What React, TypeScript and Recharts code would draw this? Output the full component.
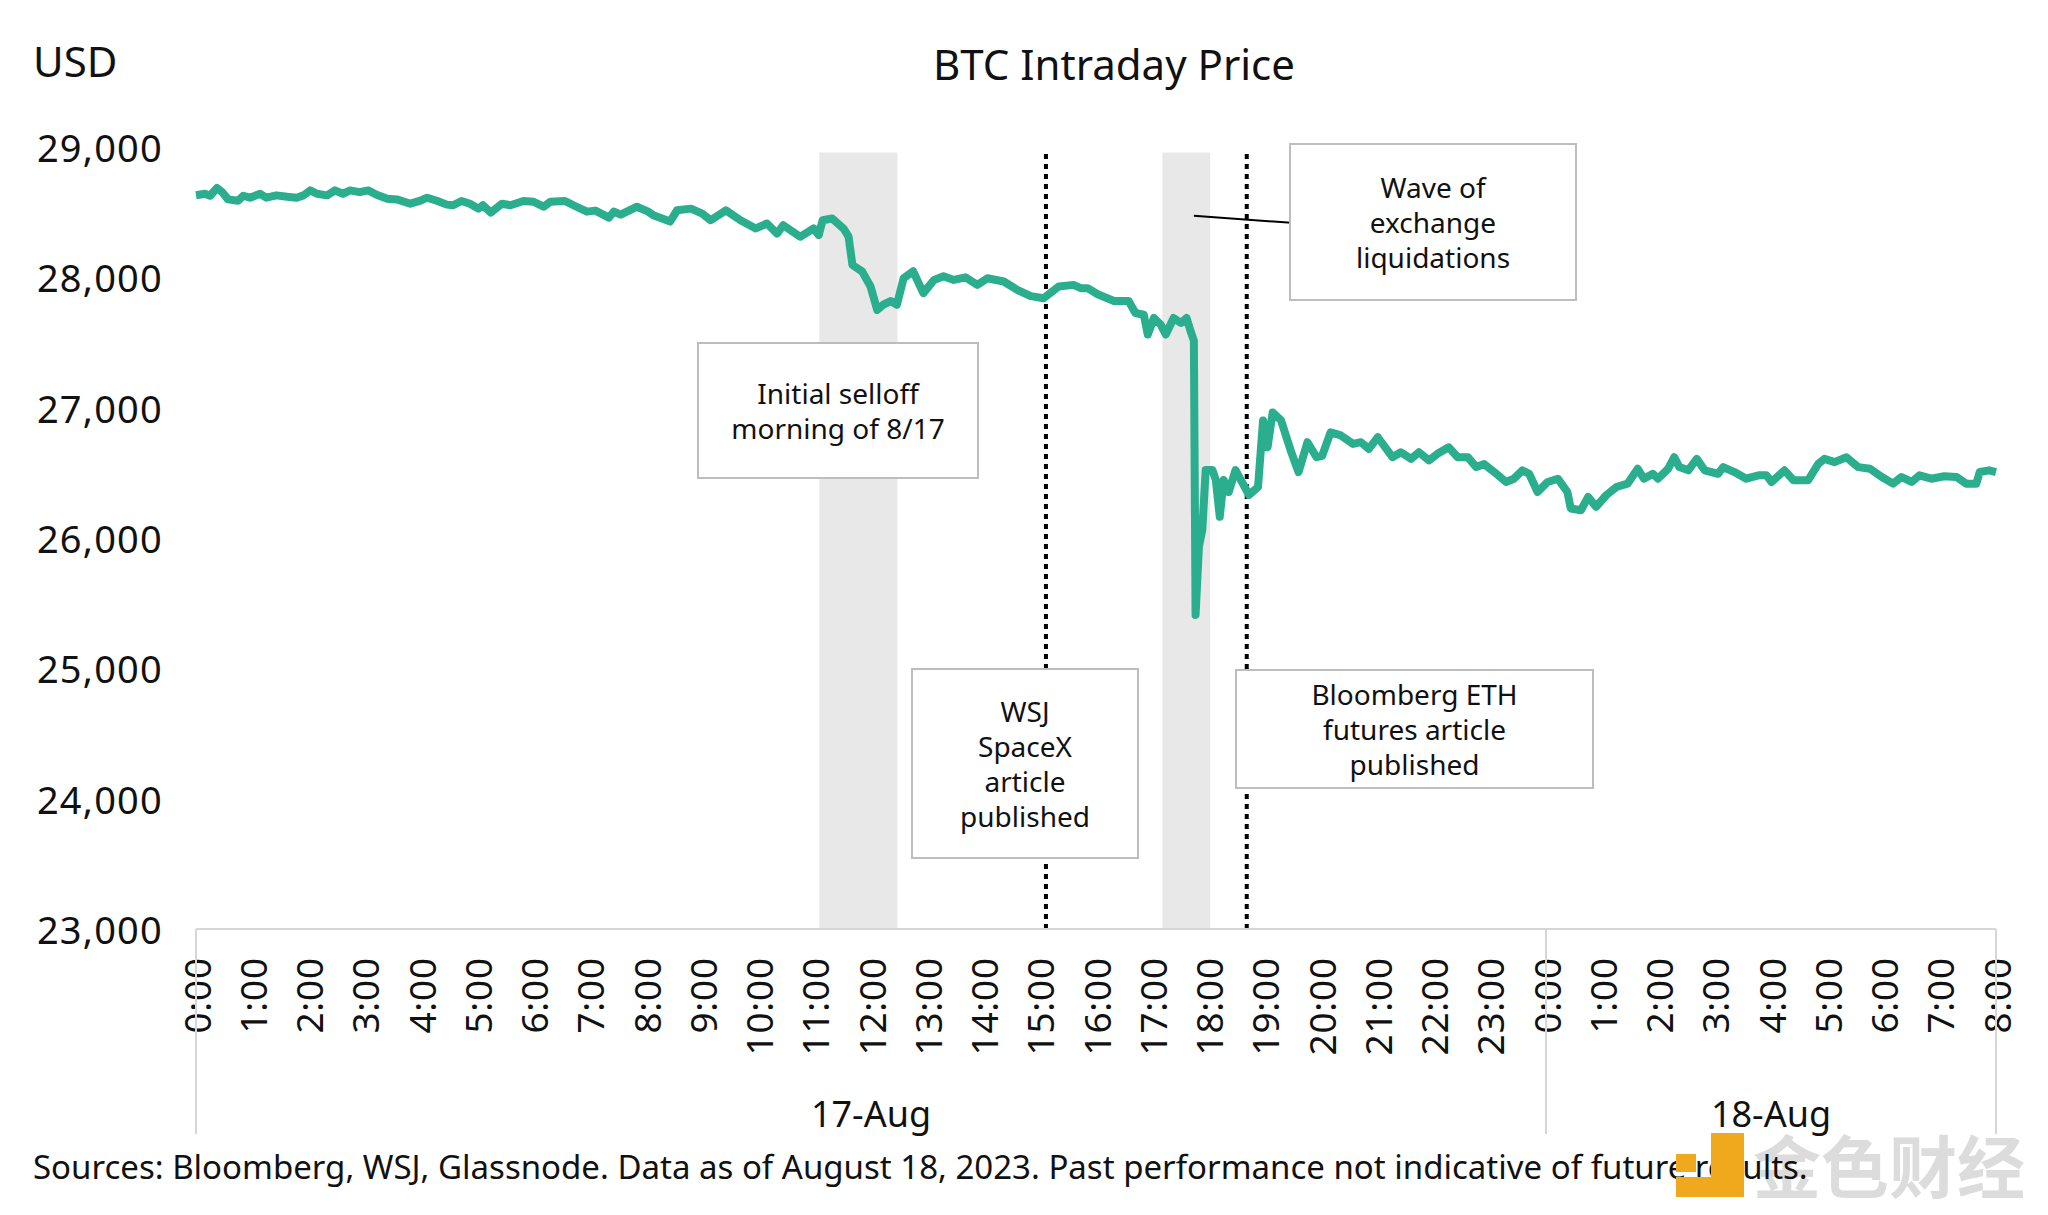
import { LineChart, Line, XAxis, YAxis, ReferenceArea, ReferenceLine } from 'recharts';

// hours since 0:00 on 17-Aug
const hours = [
  0.0, 0.16, 0.25, 0.37, 0.46, 0.57, 0.75, 0.84, 0.96, 1.14, 1.25, 1.43, 1.62, 1.79, 1.91,
  2.03, 2.15, 2.33, 2.47, 2.61, 2.74, 2.91, 3.06, 3.21, 3.4, 3.57, 3.81, 3.99, 4.11, 4.28,
  4.46, 4.57, 4.72, 4.87, 5.02, 5.1, 5.24, 5.44, 5.59, 5.82, 6.0, 6.18, 6.3, 6.56, 6.71,
  6.95, 7.1, 7.34, 7.43, 7.55, 7.84, 7.9, 8.04, 8.13, 8.43, 8.55, 8.8, 9.0, 9.15, 9.42,
  9.68, 9.95, 10.15, 10.33, 10.44, 10.74, 10.98, 11.07, 11.14, 11.31, 11.51, 11.6, 11.67, 11.84, 11.99,
  12.11, 12.22, 12.35, 12.46, 12.58, 12.75, 12.93, 13.12, 13.29, 13.47, 13.68, 13.89, 14.07, 14.36, 14.6,
  14.84, 15.07, 15.34, 15.6, 15.73, 15.85, 16.03, 16.32, 16.58, 16.7, 16.85, 16.92, 17.03, 17.15, 17.24,
  17.38, 17.51, 17.61, 17.68, 17.74, 17.77, 17.83, 17.89, 17.95, 18.07, 18.13, 18.2, 18.27, 18.36, 18.48,
  18.61, 18.72, 18.88, 18.97, 19.05, 19.14, 19.29, 19.46, 19.6, 19.76, 19.92, 20.02, 20.17, 20.34, 20.57,
  20.71, 20.85, 21.01, 21.27, 21.42, 21.6, 21.74, 21.92, 22.07, 22.27, 22.43, 22.61, 22.76, 22.9, 23.08,
  23.29, 23.43, 23.58, 23.7, 23.85, 24.03, 24.21, 24.38, 24.44, 24.62, 24.75, 24.89, 25.07, 25.25, 25.45,
  25.63, 25.74, 25.9, 25.99, 26.17, 26.28, 26.37, 26.53, 26.68, 26.82, 27.06, 27.15, 27.35, 27.56, 27.78,
  27.92, 28.01, 28.24, 28.4, 28.66, 28.84, 28.95, 29.13, 29.34, 29.55, 29.76, 29.97, 30.17, 30.32, 30.5,
  30.64, 30.85, 31.08, 31.3, 31.47, 31.65, 31.71, 31.88, 32.0,
];

// BTC price, USD
const prices = [
  28630, 28641, 28626, 28685, 28656, 28598, 28588, 28626, 28611, 28641, 28611, 28629, 28618, 28611, 28629,
  28667, 28641, 28629, 28667, 28641, 28667, 28654, 28667, 28634, 28603, 28598, 28565, 28588, 28611, 28588,
  28558, 28553, 28586, 28565, 28527, 28553, 28497, 28565, 28553, 28586, 28580, 28542, 28580, 28586, 28553,
  28504, 28512, 28458, 28504, 28481, 28542, 28530, 28504, 28476, 28428, 28514, 28527, 28489, 28438, 28514,
  28438, 28375, 28413, 28336, 28400, 28311, 28375, 28324, 28438, 28451, 28375, 28314, 28095, 28046, 27932,
  27751, 27790, 27818, 27790, 27993, 28046, 27879, 27980, 28008, 27980, 28000, 27942, 27993, 27968, 27904,
  27856, 27840, 27930, 27942, 27917, 27917, 27870, 27818, 27818, 27726, 27713, 27561, 27688, 27637, 27561,
  27688, 27650, 27688, 27589, 27513, 25410, 25934, 26063, 26521, 26521, 26445, 26163, 26445, 26353, 26521,
  26417, 26330, 26391, 26902, 26696, 26963, 26902, 26673, 26506, 26735, 26620, 26630, 26811, 26790, 26722,
  26735, 26684, 26773, 26620, 26658, 26607, 26658, 26595, 26646, 26696, 26620, 26620, 26544, 26567, 26506,
  26430, 26455, 26519, 26493, 26353, 26430, 26455, 26353, 26226, 26213, 26315, 26239, 26328, 26391, 26417,
  26531, 26455, 26493, 26455, 26531, 26620, 26544, 26519, 26607, 26519, 26493, 26544, 26506, 26455, 26481,
  26481, 26430, 26519, 26443, 26443, 26569, 26607, 26582, 26620, 26544, 26531, 26468, 26417, 26468, 26430,
  26481, 26455, 26474, 26468, 26417, 26417, 26506, 26519, 26506,
];

const yTicks = [23000, 24000, 25000, 26000, 27000, 28000, 29000];
const xTicks = [
  0, 1, 2, 3, 4, 5, 6, 7, 8, 9, 10, 11, 12, 13, 14, 15, 16, 17, 18, 19, 20, 21, 22, 23,
  24, 25, 26, 27, 28, 29, 30, 31, 32,
];
const xTickLabels = [
  '0:00', '1:00', '2:00', '3:00', '4:00', '5:00', '6:00', '7:00', '8:00', '9:00', '10:00', '11:00',
  '12:00', '13:00', '14:00', '15:00', '16:00', '17:00', '18:00', '19:00', '20:00', '21:00', '22:00', '23:00',
  '0:00', '1:00', '2:00', '3:00', '4:00', '5:00', '6:00', '7:00', '8:00',
];
const dayBounds = [0, 24, 32];
const dayLabelAt = [12, 28];
const dayLabels = ['17-Aug', '18-Aug'];

// shaded windows and event times (hours)
const bandStarts = [11.08, 17.18];
const bandEnds = [12.47, 18.03];
const eventHours = [15.11, 18.68];
const eventTop = 28950;
const connectorFrom = { x: 17.74, y: 28472 };
const connectorTo = { x: 19.47, y: 28418 };

const data = hours.map((h, i) => ({ h, price: prices[i] }));

const FONT = "'Noto Sans', 'Open Sans', sans-serif";
const AXIS_Y = 929;
const GRAY = '#d6d6d6';

const notes = [
  { lines: ['Wave of', 'exchange', 'liquidations'], left: 1289, top: 143, width: 288, height: 158 },
  { lines: ['Initial selloff', 'morning of 8/17'], left: 697, top: 342, width: 282, height: 137 },
  { lines: ['WSJ', 'SpaceX', 'article', 'published'], left: 911, top: 668, width: 228, height: 191 },
  { lines: ['Bloomberg ETH', 'futures article', 'published'], left: 1235, top: 669, width: 359, height: 120 },
];

function YTick({ y, payload }: any) {
  return (
    <text
      x={163}
      y={y}
      textAnchor="end"
      dominantBaseline="central"
      fontSize={38}
      letterSpacing={1.2}
      fill="#111"
      fontFamily={FONT}
    >
      {Number(payload.value).toLocaleString('en-US')}
    </text>
  );
}

function XTick({ x, payload }: any) {
  const v = payload.value;
  const idx = xTicks.indexOf(v);
  const dl = dayLabelAt.indexOf(v);
  return (
    <g>
      <text
        transform={`translate(${x},${AXIS_Y + 28}) rotate(-90)`}
        textAnchor="end"
        dominantBaseline="central"
        fontSize={37}
        letterSpacing={0.8}
        fill="#111"
        fontFamily={FONT}
      >
        {xTickLabels[idx]}
      </text>
      {dayBounds.includes(v) && <line x1={x} x2={x} y1={AXIS_Y} y2={1134} stroke={GRAY} strokeWidth={2} />}
      {dl >= 0 && (
        <text x={x} y={1113} textAnchor="middle" dominantBaseline="central" fontSize={36} fill="#111" fontFamily={FONT}>
          {dayLabels[dl]}
        </text>
      )}
    </g>
  );
}

export default function App() {
  return (
    <div style={{ position: 'absolute', left: 0, top: 0, width: 2048, height: 1215, background: '#fff', fontFamily: FONT, color: '#111' }}>
      <LineChart width={2048} height={1215} data={data} margin={{ top: 147, right: 52, bottom: 86, left: 0 }}>
        <XAxis
          dataKey="h"
          type="number"
          domain={[0, 32]}
          ticks={xTicks}
          interval={0}
          height={200}
          tick={<XTick />}
          tickLine={false}
          axisLine={{ stroke: GRAY, strokeWidth: 2 }}
        />
        <YAxis domain={[23000, 29000]} ticks={yTicks} width={196} tick={<YTick />} axisLine={false} tickLine={false} />
        {bandStarts.map((s, i) => (
          <ReferenceArea key={i} x1={s} x2={bandEnds[i]} y1={23000} y2={eventTop + 7} fill="#e8e8e8" fillOpacity={1} stroke="none" />
        ))}
        {eventHours.map((h) => (
          <ReferenceLine
            key={h}
            segment={[{ x: h, y: 23000 }, { x: h, y: eventTop }]}
            stroke="#000"
            strokeWidth={4}
            strokeDasharray="5 5"
          />
        ))}
        <ReferenceLine segment={[connectorFrom, connectorTo]} stroke="#000" strokeWidth={2} />
        <Line
          type="linear"
          dataKey="price"
          stroke="#2aae8d"
          strokeWidth={8}
          strokeLinejoin="round"
          dot={false}
          activeDot={false}
          isAnimationActive={false}
        />
      </LineChart>

      <div style={{ position: 'absolute', left: 33, top: 40, fontSize: 42, lineHeight: '42px' }}>USD</div>
      <div
        style={{
          position: 'absolute',
          left: 1114,
          top: 43,
          fontSize: 42,
          lineHeight: '42px',
          transform: 'translateX(-50%)',
          whiteSpace: 'nowrap',
        }}
      >
        BTC Intraday Price
      </div>

      {notes.map((n, i) => (
        <div
          key={i}
          style={{
            position: 'absolute',
            left: n.left,
            top: n.top,
            width: n.width,
            height: n.height,
            boxSizing: 'border-box',
            border: '2.5px solid #bdbdbd',
            background: '#fff',
            display: 'flex',
            flexDirection: 'column',
            justifyContent: 'center',
            alignItems: 'center',
            textAlign: 'center',
            fontSize: 28,
            lineHeight: '35px',
          }}
        >
          {n.lines.map((l) => (
            <div key={l}>{l}</div>
          ))}
        </div>
      ))}

      {/* watermark, grey characters sit under the source line */}
      <div
        style={{
          position: 'absolute',
          left: 1753,
          top: 1130,
          fontSize: 68,
          lineHeight: '68px',
          fontWeight: 700,
          fontFamily: "'Noto Sans CJK SC', sans-serif",
          color: '#dcdcdc',
          whiteSpace: 'nowrap',
        }}
      >
        金色财经
      </div>

      <div style={{ position: 'absolute', left: 33, top: 1150, fontSize: 33, lineHeight: '33px', whiteSpace: 'nowrap' }}>
        Sources: Bloomberg, WSJ, Glassnode. Data as of August 18, 2023. Past performance not indicative of future results.
      </div>

      <div style={{ position: 'absolute', left: 1676, top: 1177, width: 68, height: 20, background: '#f0a81c' }} />
      <div style={{ position: 'absolute', left: 1711, top: 1133, width: 33, height: 50, background: '#f0a81c' }} />
      <div style={{ position: 'absolute', left: 1676, top: 1154, width: 20, height: 18, background: '#f0a81c' }} />
    </div>
  );
}
